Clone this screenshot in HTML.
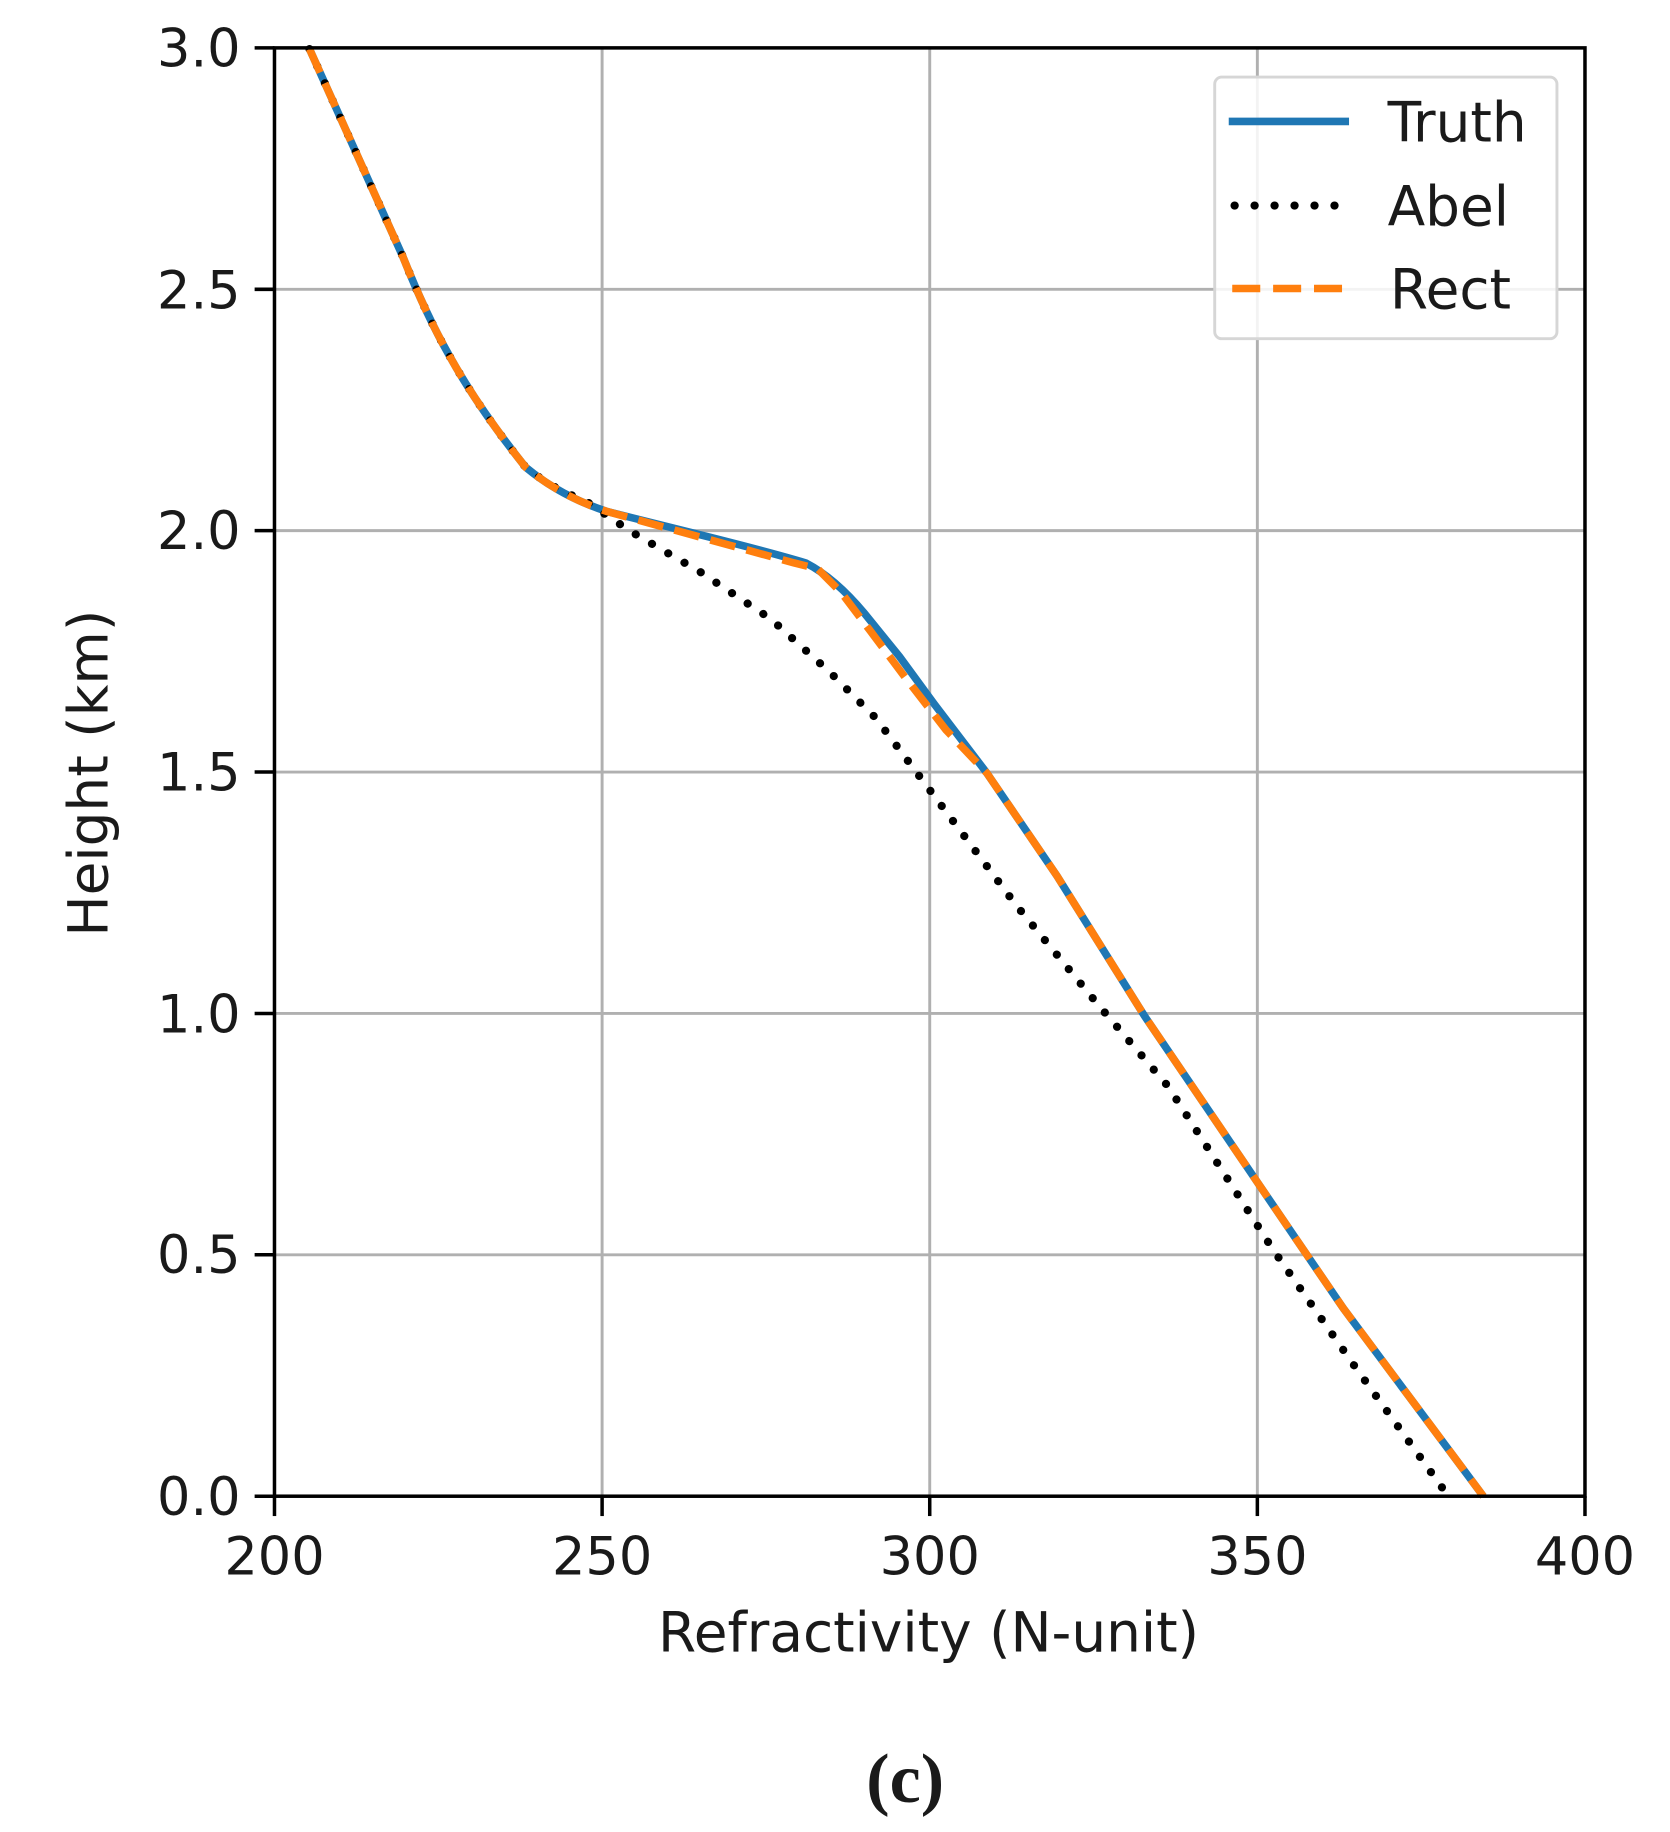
<!DOCTYPE html>
<html><head><meta charset="utf-8"><style>html,body{margin:0;padding:0;background:#fff}svg{display:block}</style></head>
<body>
<svg width="1670" height="1832" viewBox="0 0 1670 1832" xmlns="http://www.w3.org/2000/svg">
<g transform="scale(1.168)" font-family="DejaVu Sans, Liberation Sans, sans-serif" fill="#1a1a1a">
<g stroke="#b0b0b0" stroke-width="2.5">
<line x1="515.5" y1="41" x2="515.5" y2="1281"/><line x1="796" y1="41" x2="796" y2="1281"/><line x1="1076.5" y1="41" x2="1076.5" y2="1281"/>
<line x1="235" y1="247.7" x2="1357" y2="247.7"/><line x1="235" y1="454.3" x2="1357" y2="454.3"/><line x1="235" y1="661" x2="1357" y2="661"/><line x1="235" y1="867.7" x2="1357" y2="867.7"/><line x1="235" y1="1074.3" x2="1357" y2="1074.3"/>
</g>
<g fill="none" stroke-linecap="butt" stroke-linejoin="round">
<path stroke="#1f77b4" stroke-width="6.5" d="M265,42 L345,220 Q365,270 385,305 Q410,350 450,400 Q480,425 520,438 L600,458 Q660,473 690,482 Q715,495 740,525 L770,562 L800,603 L845,662 L905,750 L980,870 L1075,1010 L1150,1120 L1270,1281"/>
<path stroke="#000" stroke-width="7" stroke-dasharray="0.1 16" stroke-linecap="round" d="M265,42 L345,220 Q365,270 385,305 Q410,350 450,400 Q475,420 500,428 L540,455 L600,490 L660,530 L710,575 L750,615 L795,675 L870,775 L940,860 L1000,930 L1090,1070 L1160,1170 L1240,1281"/>
<path stroke="#ff7f0e" stroke-width="6.5" stroke-dasharray="22 10" d="M265,42 L345,220 Q365,270 385,305 Q410,350 450,400 Q480,425 520,438 L600,460 L680,482 L700,487 L720,507 L745,540 L775,580 L810,625 L845,662 L905,750 L980,870 L1075,1010 L1150,1120 L1270,1281"/>
</g>
<rect x="235" y="41" width="1122" height="1240" fill="none" stroke="#000" stroke-width="3"/>
<g stroke="#000" stroke-width="3">
<line x1="218" y1="41" x2="235" y2="41"/><line x1="218" y1="247.7" x2="235" y2="247.7"/><line x1="218" y1="454.3" x2="235" y2="454.3"/><line x1="218" y1="661" x2="235" y2="661"/><line x1="218" y1="867.7" x2="235" y2="867.7"/><line x1="218" y1="1074.3" x2="235" y2="1074.3"/><line x1="218" y1="1281" x2="235" y2="1281"/>
<line x1="235" y1="1281" x2="235" y2="1298"/><line x1="515.5" y1="1281" x2="515.5" y2="1298"/><line x1="796" y1="1281" x2="796" y2="1298"/><line x1="1076.5" y1="1281" x2="1076.5" y2="1298"/><line x1="1357" y1="1281" x2="1357" y2="1298"/>
</g>
<g font-size="45" text-anchor="end">
<text x="206" y="57">3.0</text><text x="206" y="264">2.5</text><text x="206" y="470">2.0</text><text x="206" y="677">1.5</text><text x="206" y="884">1.0</text><text x="206" y="1090">0.5</text><text x="206" y="1297">0.0</text>
</g>
<g font-size="45" text-anchor="middle">
<text x="235" y="1348">200</text><text x="515.5" y="1348">250</text><text x="796" y="1348">300</text><text x="1076.5" y="1348">350</text><text x="1357" y="1348">400</text>
<text x="795" y="1414" font-size="47">Refractivity (N-unit)</text>
<text transform="translate(92,662) rotate(-90)" font-size="47">Height (km)</text>
<text x="775" y="1543" font-size="60" font-weight="bold" font-family="Liberation Serif, serif">(c)</text>
</g>
<rect x="1040" y="66" width="293" height="224" rx="6" fill="#fff" fill-opacity="0.85" stroke="#d6d6d6" stroke-width="2.5"/>
<line x1="1052" y1="104" x2="1155" y2="104" stroke="#1f77b4" stroke-width="6.5"/>
<line x1="1057" y1="176" x2="1150" y2="176" stroke="#000" stroke-width="7" stroke-dasharray="0.1 17" stroke-linecap="round"/>
<line x1="1055" y1="247" x2="1155" y2="247" stroke="#ff7f0e" stroke-width="6.5" stroke-dasharray="24 11"/>
<g font-size="47"><text x="1188" y="121">Truth</text><text x="1188" y="193">Abel</text><text x="1190" y="264">Rect</text></g>
</g>
</svg>
</body></html>
